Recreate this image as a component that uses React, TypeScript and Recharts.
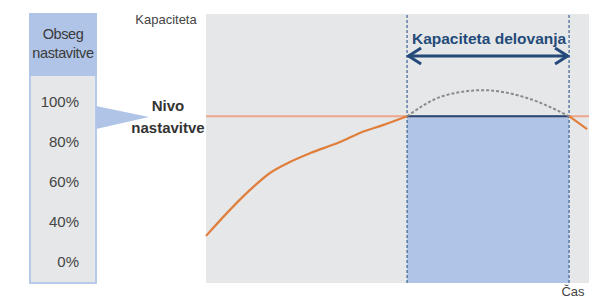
import React from 'react';
import {
  ComposedChart,
  Line,
  XAxis,
  YAxis,
  CartesianGrid,
  ReferenceLine,
  ReferenceArea,
} from 'recharts';

// capacity over time (time 0..100, capacity 0..100)
const riseCurve = [
  { t: 0, cap: 17.5 },
  { t: 7, cap: 28.3 },
  { t: 11.5, cap: 34.6 },
  { t: 16.7, cap: 40.9 },
  { t: 21.9, cap: 45.0 },
  { t: 27.2, cap: 48.3 },
  { t: 35.0, cap: 52.4 },
  { t: 40.2, cap: 55.8 },
  { t: 46.2, cap: 58.7 },
  { t: 52.5, cap: 62 },
];
const potentialCurve = [
  { t: 52.5, cap: 62 },
  { t: 61.9, cap: 69.5 },
  { t: 72.3, cap: 71.7 },
  { t: 83.8, cap: 68.8 },
  { t: 94.8, cap: 62 },
];
const fallCurve = [
  { t: 94.8, cap: 62 },
  { t: 99.5, cap: 57.2 },
];
const setLevel = 62;
const bandStart = 52.5;
const bandEnd = 94.8;
const arrowLevel = 84.4;
const percentLabels = ['100%', '80%', '60%', '40%', '0%'];

const NAVY = '#244a7a';
const ORANGE = '#e07f3c';
const FONT = '"Liberation Sans", Arial, sans-serif';

// double headed arrow with its caption
function RangeArrow(props: any) {
  const { x1, y1, x2, y2 } = props;
  const a = 14;
  const h = 8;
  return (
    <g>
      <line x1={x1 + 1} y1={y1} x2={x2 - 1} y2={y2} stroke={NAVY} strokeWidth={3} />
      <polyline
        points={`${x1 + a},${y1 - h} ${x1 + 1.5},${y1} ${x1 + a},${y1 + h}`}
        fill="none"
        stroke={NAVY}
        strokeWidth={3}
      />
      <polyline
        points={`${x2 - a},${y2 - h} ${x2 - 1.5},${y2} ${x2 - a},${y2 + h}`}
        fill="none"
        stroke={NAVY}
        strokeWidth={3}
      />
      <text
        x={(x1 + x2) / 2 + 1}
        y={y1 - 12}
        textAnchor="middle"
        fill={NAVY}
        fontSize={15.5}
        fontWeight="bold"
        fontFamily={FONT}
      >
        Kapaciteta delovanja
      </text>
    </g>
  );
}

export default function App() {
  return (
    <div
      style={{
        position: 'absolute',
        left: 0,
        top: 0,
        width: 602,
        height: 299,
        background: '#fff',
        fontFamily: FONT,
        overflow: 'hidden',
      }}
    >
      <ComposedChart
        width={602}
        height={299}
        margin={{ top: 14, right: 13, left: 206, bottom: 16 }}
      >
        <CartesianGrid fill="#e6e7e8" horizontal={false} vertical={false} />
        <XAxis
          type="number"
          dataKey="t"
          domain={[0, 100]}
          height={0}
          tick={false}
          tickLine={false}
          axisLine={{ stroke: '#8c8c8c', strokeWidth: 2 }}
        />
        <YAxis
          type="number"
          domain={[0, 100]}
          width={0}
          tick={false}
          tickLine={false}
          axisLine={{ stroke: '#555', strokeWidth: 1.5 }}
        />

        <ReferenceArea
          x1={bandStart}
          x2={bandEnd}
          y1={0}
          y2={setLevel}
          fill="#afc4e7"
          fillOpacity={1}
          stroke="none"
        />
        <ReferenceLine y={setLevel} stroke="#eca68c" strokeWidth={2} />
        <ReferenceLine
          segment={[
            { x: bandStart, y: setLevel },
            { x: bandEnd, y: setLevel },
          ]}
          stroke={NAVY}
          strokeWidth={2}
        />
        <ReferenceLine x={bandStart} stroke="#3d6294" strokeDasharray="3 2" strokeWidth={1.2} />
        <ReferenceLine x={bandEnd} stroke="#3d6294" strokeDasharray="3 2" strokeWidth={1.2} />
        <ReferenceLine
          segment={[
            { x: bandStart, y: arrowLevel },
            { x: bandEnd, y: arrowLevel },
          ]}
          shape={RangeArrow}
        />

        <Line
          data={riseCurve}
          dataKey="cap"
          type="monotone"
          stroke={ORANGE}
          strokeWidth={2.2}
          dot={false}
          isAnimationActive={false}
        />
        <Line
          data={potentialCurve}
          dataKey="cap"
          type="monotone"
          stroke="#8a8a8a"
          strokeWidth={2}
          strokeDasharray="3 2"
          dot={false}
          isAnimationActive={false}
        />
        <Line
          data={fallCurve}
          dataKey="cap"
          type="linear"
          stroke={ORANGE}
          strokeWidth={2.2}
          dot={false}
          isAnimationActive={false}
        />
      </ComposedChart>

      {/* axis captions */}
      <div style={{ position: 'absolute', left: 130, top: 12, width: 72, textAlign: 'center', fontSize: 13, color: '#444' }}>
        Kapaciteta
      </div>
      <div
        style={{
          position: 'absolute',
          left: 553,
          top: 284,
          width: 40,
          height: 15,
          lineHeight: '15px',
          textAlign: 'center',
          fontSize: 13,
          color: '#444',
        }}
      >
        Čas
      </div>

      {/* setting range panel */}
      <div
        style={{
          position: 'absolute',
          left: 29,
          top: 13,
          width: 68,
          height: 63,
          background: '#afc4e7',
          color: '#3a3a3a',
          fontSize: 14.5,
          lineHeight: '19px',
          textAlign: 'center',
          paddingTop: 12,
          boxSizing: 'border-box',
          letterSpacing: -0.4,
        }}
      >
        Obseg
        <br />
        nastavitve
      </div>
      <div
        style={{
          position: 'absolute',
          left: 29,
          top: 76,
          width: 68,
          height: 208,
          background: '#e6e7e8',
          border: '2px solid #b7caea',
          borderTop: 'none',
          boxSizing: 'border-box',
        }}
      />
      {percentLabels.map((p, i) => (
        <div
          key={p}
          style={{
            position: 'absolute',
            left: 29,
            width: 50,
            top: 102 + i * 40 - 9,
            height: 18,
            lineHeight: '18px',
            textAlign: 'right',
            fontSize: 15,
            color: '#444',
          }}
        >
          {p}
        </div>
      ))}

      <svg style={{ position: 'absolute', left: 0, top: 0 }} width={602} height={299}>
        <polygon points="96,106 96,129 149,117" fill="#afc4e7" />
      </svg>
      <div
        style={{
          position: 'absolute',
          left: 128,
          top: 95,
          width: 80,
          textAlign: 'center',
          fontSize: 15,
          fontWeight: 'bold',
          lineHeight: '22px',
          color: '#333',
        }}
      >
        Nivo
        <br />
        nastavitve
      </div>
    </div>
  );
}
